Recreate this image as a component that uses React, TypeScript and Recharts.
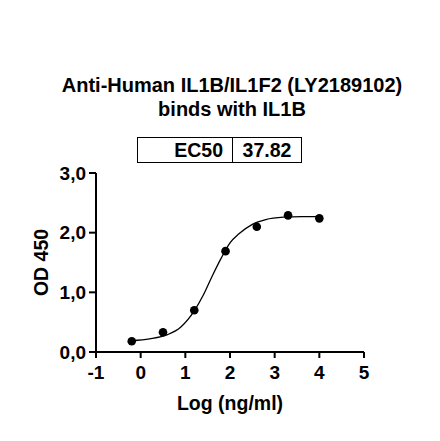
import { ComposedChart, Scatter, Line, XAxis, YAxis, Label } from "recharts";

// measured points: log concentration (ng/ml) vs OD 450
const logConc = [-0.2, 0.5, 1.2, 1.9, 2.6, 3.3, 4.0];
const od450 = [0.18, 0.33, 0.7, 1.69, 2.1, 2.29, 2.24];

// fitted curve
const fitX = [-0.2, 0.2, 0.6, 0.9, 1.2, 1.4, 1.6, 1.8, 2.0, 2.2, 2.5, 2.8, 3.2, 3.6, 4.0];
const fitY = [0.19, 0.22, 0.29, 0.42, 0.69, 0.95, 1.27, 1.57, 1.83, 1.98, 2.14, 2.22, 2.26, 2.27, 2.27];

const xTicks = [-1, 0, 1, 2, 3, 4, 5];
const yTicks = [0, 1, 2, 3];

const titleLines = ["Anti-Human IL1B/IL1F2 (LY2189102)", "binds with IL1B"];
const ec50Label = "EC50";
const ec50Value = "37.82";

const font = "'Liberation Sans', Arial, sans-serif";

const points = logConc.map((x, i) => ({ x, y: od450[i] }));
const curve = fitX.map((x, i) => ({ x, y: fitY[i] }));

export default function App() {
    return (
        <div style={{ position: "absolute", left: 0, top: 0, width: 440, height: 441, background: "#fff", fontFamily: font }}>
            <div style={{ position: "absolute", left: 0, top: 73, width: 464, textAlign: "center", fontWeight: "bold", fontSize: 20, lineHeight: "24px", color: "#000" }}>
                {titleLines.map((t) => (
                    <div key={t}>{t}</div>
                ))}
            </div>
            <div style={{ position: "absolute", left: 137, top: 137, width: 163, height: 24, border: "1.5px solid #000", display: "flex", fontWeight: "bold", fontSize: 19.5, color: "#000" }}>
                <div style={{ width: 95, borderRight: "1.5px solid #000", textAlign: "right", paddingRight: 9, boxSizing: "border-box", lineHeight: "25px" }}>{ec50Label}</div>
                <div style={{ flex: 1, textAlign: "center", lineHeight: "25px" }}>{ec50Value}</div>
            </div>
            <ComposedChart width={440} height={441} margin={{ top: 173, right: 76, bottom: 0, left: 0 }} style={{ position: "absolute", left: 0, top: 0 }}>
                <XAxis
                    type="number"
                    dataKey="x"
                    domain={[-1, 5]}
                    ticks={xTicks}
                    allowDataOverflow
                    height={89}
                    stroke="#000"
                    strokeWidth={2}
                    tickSize={6}
                    tickMargin={8}
                    tick={{ fill: "#000", fontSize: 19, fontWeight: "bold", fontFamily: font }}
                >
                    <Label
                        value="Log (ng/ml)"
                        position="insideBottom"
                        offset={31}
                        style={{ fill: "#000", fontSize: 19.5, fontWeight: "bold", fontFamily: font }}
                    />
                </XAxis>
                <YAxis
                    type="number"
                    dataKey="y"
                    domain={[0, 3]}
                    ticks={yTicks}
                    width={96}
                    stroke="#000"
                    strokeWidth={2}
                    tickSize={7}
                    tickMargin={3}
                    tickFormatter={(v: number) => v.toFixed(1).replace(".", ",")}
                    tick={{ fill: "#000", fontSize: 19, fontWeight: "bold", fontFamily: font }}
                >
                    <Label
                        value="OD 450"
                        angle={-90}
                        position="insideLeft"
                        offset={41}
                        style={{ fill: "#000", fontSize: 19.5, fontWeight: "bold", fontFamily: font, textAnchor: "middle" }}
                    />
                </YAxis>
                <Line
                    data={curve}
                    dataKey="y"
                    type="monotone"
                    stroke="#000"
                    strokeWidth={1.3}
                    dot={false}
                    activeDot={false}
                    isAnimationActive={false}
                />
                <Scatter data={points} dataKey="y" fill="#000" isAnimationActive={false} shape={(p: any) => <circle cx={p.cx} cy={p.cy} r={4.3} fill="#000" />} />
            </ComposedChart>
        </div>
    );
}
